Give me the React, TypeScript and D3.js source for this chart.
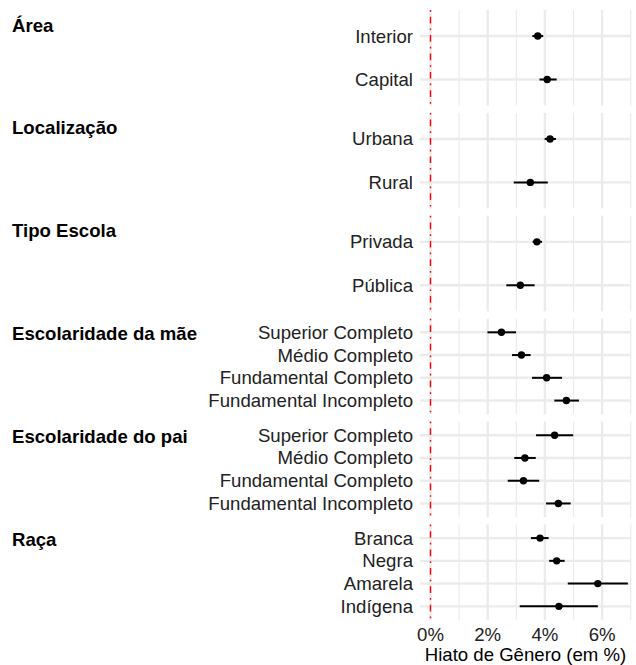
import React from 'react'
import * as d3 from 'd3'

const groups = ['Área', 'Localização', 'Tipo Escola', 'Escolaridade da mãe', 'Escolaridade do pai', 'Raça']
const categories = [
  ['Interior', 'Capital'],
  ['Urbana', 'Rural'],
  ['Privada', 'Pública'],
  ['Superior Completo', 'Médio Completo', 'Fundamental Completo', 'Fundamental Incompleto'],
  ['Superior Completo', 'Médio Completo', 'Fundamental Completo', 'Fundamental Incompleto'],
  ['Branca', 'Negra', 'Amarela', 'Indígena'],
]
const estimates = [
  [3.75, 4.08],
  [4.18, 3.49],
  [3.72, 3.14],
  [2.48, 3.18, 4.06, 4.75],
  [4.34, 3.30, 3.25, 4.47],
  [3.83, 4.41, 5.85, 4.49],
]
const lower = [
  [3.56, 3.81],
  [3.99, 2.91],
  [3.57, 2.65],
  [1.99, 2.85, 3.55, 4.33],
  [3.69, 2.93, 2.70, 4.04],
  [3.51, 4.15, 4.80, 3.12],
]
const upper = [
  [3.94, 4.41],
  [4.39, 4.10],
  [3.90, 3.64],
  [2.99, 3.50, 4.60, 5.19],
  [4.99, 3.68, 3.80, 4.90],
  [4.13, 4.69, 6.90, 5.85],
]
const xTicks = [0, 2, 4, 6]
const xMinor = [1, 3, 5, 7]

const W = 636
const H = 665
const left = 420
const right = 631
const top = 10
const bottom = 620
const font = '"Liberation Sans", Arial, sans-serif'

function App() {
  const x = d3.scaleLinear().domain([-0.367, 7.01]).range([left, right])
  const panel = d3.scaleBand<string>().domain(groups).range([top, bottom]).paddingInner(0.0712).paddingOuter(0)
  const fmt = (d: number) => `${d}%`

  return (
    <svg width={W} height={H} style={{ position: 'absolute', left: 0, top: 0, background: '#fff' }}>
      {groups.map((g, gi) => {
        const y0 = panel(g) as number
        const bh = panel.bandwidth()
        const y = d3.scalePoint<string>().domain(categories[gi].map((c, i) => `${i}`)).range([y0, y0 + bh]).padding(0.6)
        return (
          <g key={g}>
            {xMinor.map(t => (
              <line key={'m' + t} x1={x(t)} x2={x(t)} y1={y0} y2={y0 + bh} stroke="#EBEBEB" strokeWidth={1.2} />
            ))}
            {xTicks.map(t => (
              <line key={'M' + t} x1={x(t)} x2={x(t)} y1={y0} y2={y0 + bh} stroke="#EBEBEB" strokeWidth={2.4} />
            ))}
            {categories[gi].map((c, i) => (
              <line key={'h' + i} x1={left} x2={right} y1={y(`${i}`)} y2={y(`${i}`)} stroke="#EBEBEB" strokeWidth={2.4} />
            ))}
            <line x1={x(0)} x2={x(0)} y1={y0} y2={y0 + bh} stroke="#FF0000" strokeWidth={1.4} strokeDasharray="1.7 5 6.7 5" />
            {categories[gi].map((c, i) => (
              <g key={'p' + i}>
                <line x1={x(lower[gi][i])} x2={x(upper[gi][i])} y1={y(`${i}`)} y2={y(`${i}`)} stroke="#000" strokeWidth={2} />
                <circle cx={x(estimates[gi][i])} cy={y(`${i}`)} r={3.7} fill="#000" />
                <text x={413} y={y(`${i}`)} dy="0.35em" textAnchor="end" fontFamily={font} fontSize={18.6} fill="#222">{c}</text>
              </g>
            ))}
            <text x={12} y={y0 + 21.5} fontFamily={font} fontSize={18.6} fontWeight="bold" fill="#000">{g}</text>
          </g>
        )
      })}
      {xTicks.map(t => (
        <text key={t} x={x(t)} y={641} textAnchor="middle" fontFamily={font} fontSize={18.6} fill="#222">{fmt(t)}</text>
      ))}
      <text x={(left + right) / 2} y={661} textAnchor="middle" fontFamily={font} fontSize={18.6} fill="#000">Hiato de Gênero (em %)</text>
    </svg>
  )
}

export default App
